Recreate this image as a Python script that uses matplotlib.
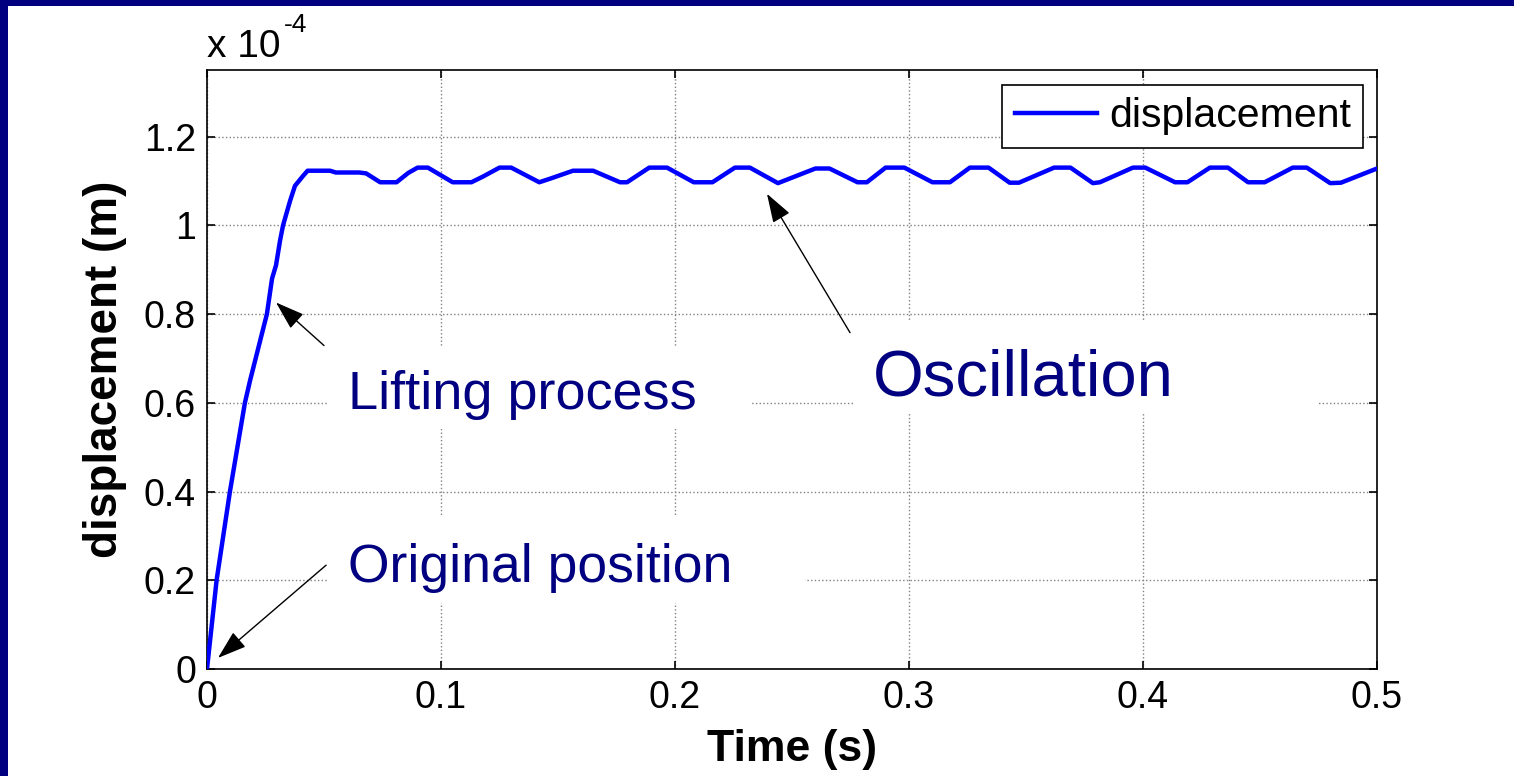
import matplotlib
matplotlib.use("Agg")
import matplotlib.pyplot as plt
from matplotlib.patches import Rectangle

plt.rcParams['font.family'] = ['Liberation Sans', 'DejaVu Sans']

# time (s) and displacement (x 1e-4 m)
t = [0, 0.0041, 0.0098, 0.0162, 0.0184, 0.0256, 0.0278, 0.0295, 0.0312, 0.0325,
     0.0355, 0.0376, 0.041, 0.043, 0.0526, 0.055, 0.065, 0.068, 0.074, 0.081,
     0.086, 0.090, 0.0944, 0.105, 0.113, 0.118, 0.125, 0.130, 0.142, 0.1466,
     0.1564, 0.165, 0.1765, 0.1795, 0.189, 0.1966, 0.208, 0.216, 0.2256, 0.232,
     0.244, 0.260, 0.266, 0.278, 0.282, 0.290, 0.298, 0.310, 0.3175, 0.326,
     0.334, 0.343, 0.347, 0.362, 0.369, 0.3786, 0.3816, 0.3957, 0.401, 0.4137,
     0.419, 0.4286, 0.4363, 0.4449, 0.452, 0.464, 0.470, 0.480, 0.4846, 0.5]
disp = [0, 0.2, 0.4, 0.6, 0.65, 0.80, 0.88, 0.91, 0.965, 1.0,
        1.055, 1.089, 1.111, 1.123, 1.123, 1.119, 1.119, 1.117, 1.097, 1.097,
        1.118, 1.130, 1.130, 1.097, 1.097, 1.110, 1.130, 1.130, 1.097, 1.105,
        1.123, 1.123, 1.097, 1.097, 1.130, 1.130, 1.097, 1.097, 1.130, 1.130,
        1.095, 1.128, 1.128, 1.097, 1.097, 1.130, 1.130, 1.097, 1.097, 1.130,
        1.130, 1.096, 1.096, 1.130, 1.130, 1.095, 1.097, 1.130, 1.130, 1.097,
        1.097, 1.130, 1.130, 1.097, 1.097, 1.130, 1.130, 1.095, 1.096, 1.128]

xticks = [0, 0.1, 0.2, 0.3, 0.4, 0.5]
xtick_labels = ['0', '0.1', '0.2', '0.3', '0.4', '0.5']
yticks = [0, 0.2, 0.4, 0.6, 0.8, 1.0, 1.2]
ytick_labels = ['0', '0.2', '0.4', '0.6', '0.8', '1', '1.2']

# annotation texts: (label, text x, text baseline y, fontsize)
notes = [('Lifting process', 0.0603, 0.585, 39),
         ('Original position', 0.0603, 0.195, 38.5),
         ('Oscillation', 0.2846, 0.617, 47)]
# white boxes behind them: (x0, y0, x1, y1) in data units
note_boxes = [(0.0513, 0.542, 0.232, 0.7246),
              (0.0513, 0.1485, 0.2556, 0.3465),
              (0.276, 0.576, 0.4748, 0.781)]
# arrows: (tip x, tip y, tail x, tail y)
arrows = [(0.0295, 0.826, 0.05, 0.729),
          (0.0047, 0.025, 0.0509, 0.234),
          (0.2393, 1.071, 0.2748, 0.758)]

navy = '#000080'

fig = plt.figure(figsize=(15.14, 7.76), dpi=100)
fig.patch.set_facecolor(navy)
fig.patches.append(Rectangle((8 / 1514, 0), 1, 1 - 6 / 776, transform=fig.transFigure,
                             facecolor='white', edgecolor='none', zorder=-10))

ax = fig.add_axes([207 / 1514, 1 - 669 / 776, 1170 / 1514, 599 / 776])
ax.plot(t, disp, color='#0000ff', lw=3.2, label='displacement', zorder=3)

ax.set_xlim(0, 0.5)
ax.set_ylim(0, 1.35)
ax.set_xticks(xticks)
ax.set_xticklabels(xtick_labels)
ax.set_yticks(yticks)
ax.set_yticklabels(ytick_labels)
ax.tick_params(direction='in', length=6, width=1.2, labelsize=27, top=True, right=True, pad=8)
ax.grid(True, linestyle=':', color='#808080', lw=1)
for s in ax.spines.values():
    s.set_linewidth(1.2)

ax.set_xlabel('Time (s)', fontsize=32, fontweight='bold', labelpad=9)
ax.set_ylabel('displacement (m)', fontsize=33, fontweight='bold', labelpad=12)
ax.text(0, 1.022, 'x 10', transform=ax.transAxes, fontsize=28, ha='left', va='baseline')
ax.text(0.0655, 1.064, '-4', transform=ax.transAxes, fontsize=19, ha='left', va='baseline')

leg = ax.legend(loc='upper right', bbox_to_anchor=(0.988, 0.975), borderaxespad=0,
                fontsize=29.5, handlelength=2.0, handletextpad=0.3, fancybox=False,
                framealpha=1, edgecolor='black', borderpad=0.3)
leg.get_frame().set_linewidth(1.2)

for x0, y0, x1, y1 in note_boxes:
    ax.add_patch(Rectangle((x0, y0), x1 - x0, y1 - y0, facecolor='white',
                           edgecolor='none', zorder=2.5))

arrow = dict(arrowstyle='-|>,head_length=1.8,head_width=0.6', color='black', lw=1,
             shrinkA=0, shrinkB=0)
for xh, yh, xt, yt in arrows:
    ax.annotate('', xy=(xh, yh), xytext=(xt, yt), arrowprops=arrow, zorder=5)

for label, x, y, size in notes:
    ax.text(x, y, label, fontsize=size, color=navy, ha='left', va='baseline', zorder=4)

fig.savefig('out.png', dpi=100, facecolor=fig.get_facecolor())
